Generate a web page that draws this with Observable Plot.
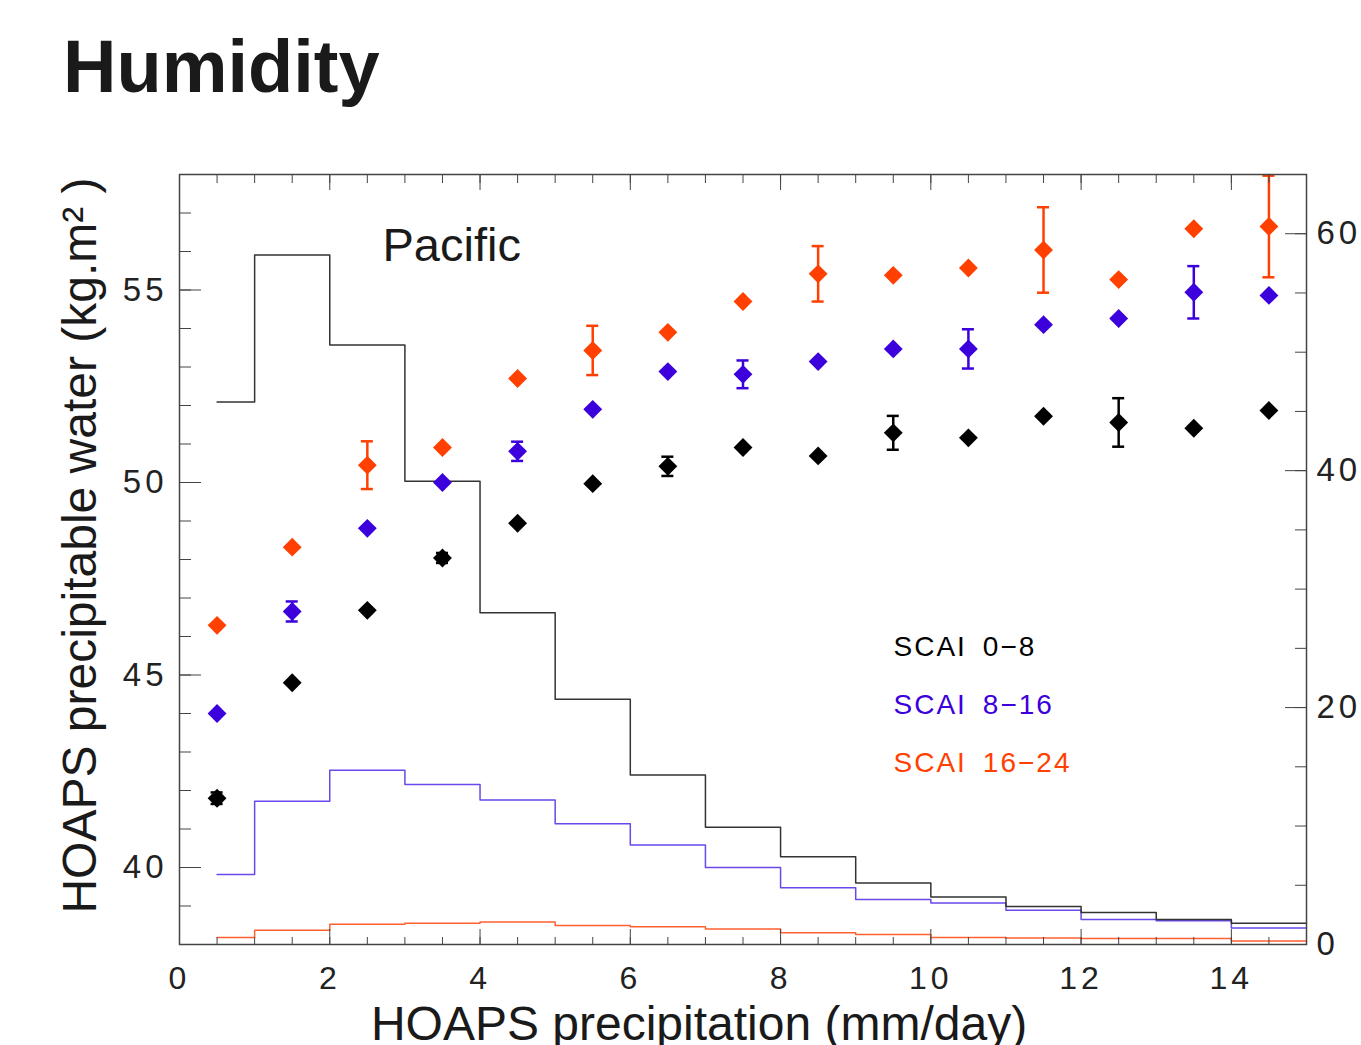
<!DOCTYPE html>
<html><head><meta charset="utf-8">
<script src="https://cdn.jsdelivr.net/npm/d3@7"></script>
<script src="https://cdn.jsdelivr.net/npm/@observablehq/plot@0.6"></script>
<style>
body{margin:0;background:#fff;width:1361px;height:1045px;overflow:hidden;}
#title{position:relative;height:130px;}
#title span{position:absolute;left:63px;top:30px;font:bold 74px "Liberation Sans",Arial,sans-serif;line-height:74px;color:#1a1a1a;}
#chart svg{display:block;}
g[aria-label="x-axis tick label"] text, g[aria-label="y-axis tick label"] text{letter-spacing:4px;}
</style></head><body>
<div id="title"><span>Humidity</span></div>
<div id="chart"></div>
<script>
// ---- data ----
const xs = [0.5,1.5,2.5,3.5,4.5,5.5,6.5,7.5,8.5,9.5,10.5,11.5,12.5,13.5,14.5];
const black  = [41.8,44.8,46.68,48.04,48.94,49.97,50.42,50.91,50.69,51.29,51.16,51.72,51.56,51.41,51.87];
const blackErr = [0.15,0,0,0.13,0,0,0.25,0,0,0.44,0,0,0.63,0,0];
const blue   = [44.0,46.65,48.81,50.0,50.81,51.9,52.88,52.81,53.14,53.47,53.47,54.1,54.26,54.94,54.86];
const blueErr  = [0,0.26,0,0,0.25,0,0,0.36,0,0,0.51,0,0,0.68,0];
const orange = [46.29,48.32,50.45,50.91,52.7,53.43,53.9,54.7,55.42,55.38,55.57,56.04,55.27,56.59,56.65];
const orangeErr = [0,0,0.62,0,0,0.64,0,0,0.72,0,0,1.11,0,0,1.32];

const histEdges = [0.5,1,2,3,4,5,6,7,8,9,10,11,12,13,14,15];
const histBlack  = [458,582,506,391,280,207,143,99,74,52,40,32,27,21,18];
const histBlue   = [59,121,147,135,122,102,84,65,48,38,35,29,21,20,14];
const histOrange = [6,12,17,18,19,16,15,13,10,8.5,6,5.5,5,5,3];

const xMajor = [0,2,4,6,8,10,12,14];
const xMinor = [0,0.5,1,1.5,2,2.5,3,3.5,4,4.5,5,5.5,6,6.5,7,7.5,8,8.5,9,9.5,10,10.5,11,11.5,12,12.5,13,13.5,14,14.5,15];
const yMajor = [40,45,50,55];
const yMinor = [38,39,40,41,42,43,44,45,46,47,48,49,50,51,52,53,54,55,56,57,58];
const rightMajor = [0,200,400,600];
const rightMinor = [0,50,100,150,200,250,300,350,400,450,500,550,600,650];

const legendLabels = ["SCAI\u20020\u22128","SCAI\u20028\u221216","SCAI\u200216\u221224"];
const colBlack = "#000000", colBlue = "#3c00dc", colOrange = "#ff4000";
const lineBlack = "#333333", lineBlue = "#6a48ec", lineOrange = "#ff6030";

// ---- secondary (right) axis mapping ----
const YMIN = 38, YMAX = 58, RMAX = 650;
const toLeft = v => YMIN + v * (YMAX - YMIN) / RMAX;
const fromLeft = y => Math.round((y - YMIN) * RMAX / (YMAX - YMIN));

const histSeries = (vals) => histEdges.map((e, i) => ({x: e, y: toLeft(vals[Math.min(i, vals.length - 1)])}));
const pts = (vals, errs) => xs.map((x, i) => ({x, y: vals[i], e: errs[i]}));
const errs = (vals, errs) => pts(vals, errs).filter(d => d.e > 0);

const font = '"Liberation Sans", Arial, sans-serif';
const blank = () => "";

function seriesMarks(vals, errArr, color) {
  const ep = errs(vals, errArr);
  return [
    Plot.ruleX(ep, {x: "x", y1: d => d.y - d.e, y2: d => d.y + d.e, stroke: color, strokeWidth: 2.5}),
    Plot.ruleY(ep, {y: d => d.y + d.e, x1: d => d.x - 0.08, x2: d => d.x + 0.08, stroke: color, strokeWidth: 2.5}),
    Plot.ruleY(ep, {y: d => d.y - d.e, x1: d => d.x - 0.08, x2: d => d.x + 0.08, stroke: color, strokeWidth: 2.5}),
    Plot.dot(pts(vals, errArr), {x: "x", y: "y", symbol: "diamond2", r: 8.5, fill: color, stroke: null})
  ];
}

const chart = Plot.plot({
  width: 1361, height: 915,
  marginTop: 44, marginBottom: 101, marginLeft: 179, marginRight: 55,
  x: {domain: [0, 15]},
  y: {domain: [YMIN, YMAX]},
  style: {fontFamily: font, background: "white", color: "#333"},
  marks: [
    // histograms (right axis)
    Plot.line(histSeries(histOrange), {x: "x", y: "y", curve: "step-after", stroke: lineOrange, strokeWidth: 1.5}),
    Plot.line(histSeries(histBlue), {x: "x", y: "y", curve: "step-after", stroke: lineBlue, strokeWidth: 1.5}),
    Plot.line(histSeries(histBlack), {x: "x", y: "y", curve: "step-after", stroke: lineBlack, strokeWidth: 1.5}),
    // points
    ...seriesMarks(black, blackErr, colBlack),
    ...seriesMarks(blue, blueErr, colBlue),
    ...seriesMarks(orange, orangeErr, colOrange),
    // axes
    Plot.axisX({ticks: xMajor, tickSize: -15, tickPadding: 37, fontSize: 32, label: null, fill: "#222", stroke: "#444"}),
    Plot.axisX({ticks: xMinor, tickSize: -7, tickFormat: blank, label: null, stroke: "#444"}),
    Plot.axisX({anchor: "top", ticks: xMajor, tickSize: -15, tickFormat: blank, label: null, stroke: "#444"}),
    Plot.axisX({anchor: "top", ticks: xMinor, tickSize: -8, tickFormat: blank, label: null, stroke: "#444"}),
    Plot.axisY({ticks: yMajor, tickSize: -22, tickPadding: 34, fontSize: 33, label: null, fill: "#222", stroke: "#444"}),
    Plot.axisY({ticks: yMinor, tickSize: -12, tickFormat: blank, label: null, stroke: "#444"}),
    Plot.axisY({anchor: "right", ticks: rightMajor.map(toLeft), tickFormat: fromLeft, tickSize: -22, tickPadding: 32, fontSize: 33, label: null, fill: "#222", stroke: "#444"}),
    Plot.axisY({anchor: "right", ticks: rightMinor.map(toLeft), tickSize: -12, tickFormat: blank, label: null, stroke: "#444"}),
    Plot.frame({stroke: "#444", strokeWidth: 1.5}),
    // axis titles
    Plot.text(["HOAPS precipitation (mm/day)"], {frameAnchor: "bottom", dx: -44, dy: 80, lineAnchor: "middle", fontSize: 48, fill: "#1a1a1a"}),
    Plot.text(["HOAPS precipitable water (kg.m\u00B2 )"], {frameAnchor: "left", rotate: -90, dx: -99, dy: -14, textAnchor: "middle", lineAnchor: "middle", fontSize: 48, fill: "#1a1a1a"}),
    // annotation
    Plot.text(["Pacific"], {frameAnchor: "top-left", dx: 203, dy: 71, textAnchor: "start", lineAnchor: "middle", fontSize: 47, fill: "#1a1a1a"}),
    // legend
    Plot.text([legendLabels[0]], {frameAnchor: "top-left", dx: 714, dy: 473, textAnchor: "start", lineAnchor: "middle", fontSize: 28, fill: colBlack}),
    Plot.text([legendLabels[1]], {frameAnchor: "top-left", dx: 714, dy: 531, textAnchor: "start", lineAnchor: "middle", fontSize: 28, fill: colBlue}),
    Plot.text([legendLabels[2]], {frameAnchor: "top-left", dx: 714, dy: 589, textAnchor: "start", lineAnchor: "middle", fontSize: 28, fill: colOrange})
  ]
});
d3.select(chart).selectAll('text').filter(function(){ return /SCAI/.test(this.textContent); }).style("letter-spacing", "2px");
document.getElementById("chart").appendChild(chart);
</script>
</body></html>
